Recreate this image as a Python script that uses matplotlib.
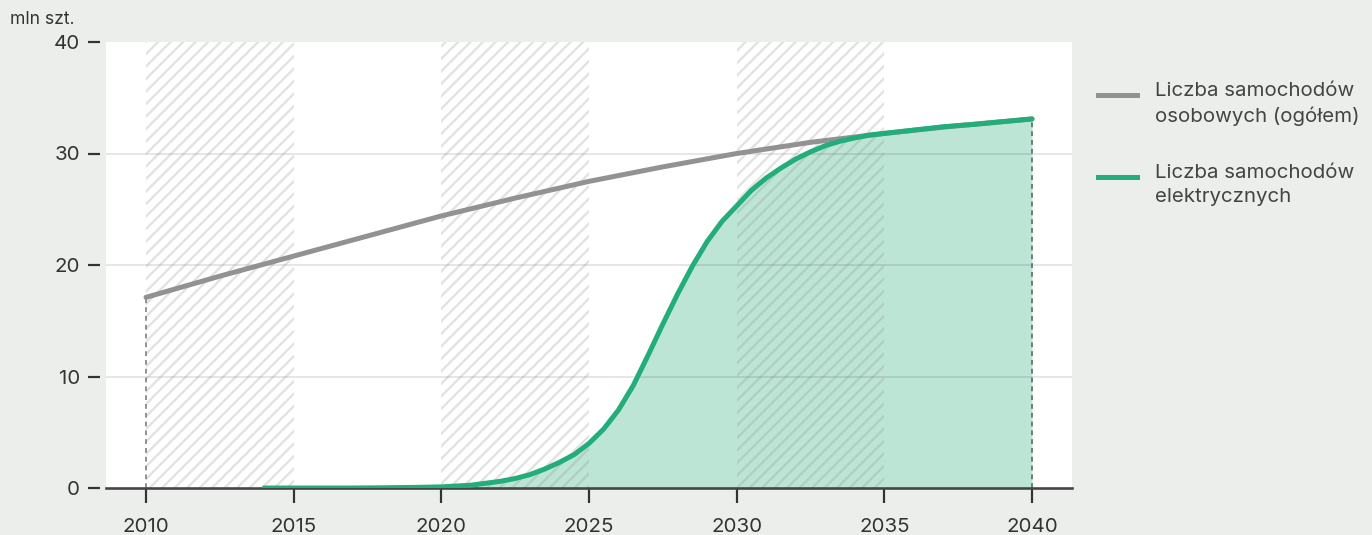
import matplotlib
matplotlib.use("Agg")
import matplotlib.pyplot as plt
from matplotlib.lines import Line2D

# ---- data ----
total_years = [2010, 2012.5, 2015, 2017.5, 2020, 2022.5, 2025, 2027.5, 2030,
               2032.5, 2035, 2037.5, 2040]
total_cars = [17.1, 19.0, 20.8, 22.6, 24.4, 26.0, 27.5, 28.8, 30.0,
              31.0, 31.8, 32.5, 33.1]

ev_years = [2014, 2015, 2016, 2017, 2018, 2019, 2020, 2021, 2022, 2022.5,
            2023, 2023.5, 2024, 2024.5, 2025, 2025.5, 2026, 2026.5, 2027,
            2027.5, 2028, 2028.5, 2029, 2029.5, 2030, 2030.5, 2031, 2031.5,
            2032, 2032.5, 2033, 2033.5, 2034, 2034.5, 2035, 2036, 2037,
            2038, 2039, 2040]
ev_cars = [0.0, 0.0, 0.0, 0.0, 0.02, 0.05, 0.1, 0.25, 0.6, 0.85,
           1.2, 1.7, 2.3, 3.0, 4.0, 5.3, 7.0, 9.2, 11.9,
           14.7, 17.4, 19.9, 22.1, 23.9, 25.3, 26.7, 27.8, 28.7,
           29.5, 30.15, 30.7, 31.1, 31.4, 31.65, 31.8, 32.1, 32.4,
           32.6, 32.85, 33.1]

x_ticks = [2010, 2015, 2020, 2025, 2030, 2035, 2040]
y_ticks = [0, 10, 20, 30, 40]
bands = [(2010, 2015), (2020, 2025), (2030, 2035)]
y_unit = "mln szt."
label_total = "Liczba samochodów\nosobowych (ogółem)"
label_ev = "Liczba samochodów\nelektrycznych"

# ---- style ----
BG = "#eceeec"
GRAY = "#929295"
GREEN = "#22ad7b"
FILL = "#bde5d6"
TXT = "#333333"

plt.rcParams['font.family'] = ['Inter', 'DejaVu Sans']
plt.rcParams['hatch.linewidth'] = 1.1

W, H, DPI = 1372, 535, 150
fig = plt.figure(figsize=(W / DPI, H / DPI), dpi=DPI, facecolor=BG)

def px(v):
    return v * 72 / DPI

ax = fig.add_axes([106 / W, 1 - 488 / H, (1072 - 106) / W, (488 - 42) / H])
ax.set_facecolor("white")
x0 = 2010 - 40 / ((1032 - 146) / 30)
x1 = 2040 + 40 / ((1032 - 146) / 30)
ax.set_xlim(x0, x1)
ax.set_ylim(0, 40)

# hatched bands
for a, b in bands:
    ax.axvspan(a, b, facecolor="none", edgecolor=(0.55, 0.55, 0.55, 0.25),
               hatch="////", linewidth=0, zorder=3)

# fill under EV
ax.fill_between(ev_years, 0, ev_cars, color=FILL, linewidth=0, zorder=1)

# gridlines
for yv in y_ticks[1:-1]:
    ax.axhline(yv, color=(0, 0, 0, 0.13), linewidth=px(1.5), zorder=2)

# dashed verticals
ax.plot([total_years[0], total_years[0]], [0, total_cars[0]], color="#7a7a7a",
        linestyle=(0, (3, 2.5)), linewidth=px(1.6), zorder=4)
ax.plot([ev_years[-1], ev_years[-1]], [0, ev_cars[-1]], color="#4d6a5f",
        linestyle=(0, (3, 2.5)), linewidth=px(1.6), zorder=4)

# lines
ax.plot(total_years, total_cars, color=GRAY, linewidth=px(5), zorder=5,
        solid_capstyle="round", solid_joinstyle="round")
ax.plot(ev_years, ev_cars, color=GREEN, linewidth=px(5), zorder=6,
        solid_capstyle="round", solid_joinstyle="round")

# spines
for s in ["top", "right", "left"]:
    ax.spines[s].set_visible(False)
ax.spines["left"].set_position(("outward", px(6)))
ax.spines["bottom"].set_color("#444444")
ax.spines["bottom"].set_linewidth(px(2.6))
ax.spines["bottom"].set_zorder(4)

ax.set_xticks(x_ticks)
ax.set_yticks(y_ticks)
ax.set_xticklabels([str(t) for t in x_ticks])
ax.set_yticklabels([str(t) for t in y_ticks])
ax.tick_params(axis="x", direction="out", length=px(15), width=px(2.2),
               color="#333333", labelsize=px(20.5), labelcolor=TXT, pad=px(15))
ax.tick_params(axis="y", direction="out", length=px(12), width=px(2.2),
               color="#333333", labelsize=px(20.5), labelcolor=TXT, pad=px(8))

fig.text(10 / W, 1 - 20 / H, y_unit, fontsize=px(17.5), color=TXT,
         ha="left", va="center")

# legend (manual)
for yc, col, lab in [(95, GRAY, label_total), (177, GREEN, label_ev)]:
    fig.add_artist(Line2D([1098 / W, 1137 / W], [1 - yc / H, 1 - yc / H],
                          color=col, linewidth=px(5), transform=fig.transFigure))
    fig.text(1155 / W, 1 - (yc - 13) / H, lab, fontsize=px(20.5), color="#444444",
             ha="left", va="top", linespacing=1.45)

fig.savefig("out.png", dpi=DPI, facecolor=BG)
